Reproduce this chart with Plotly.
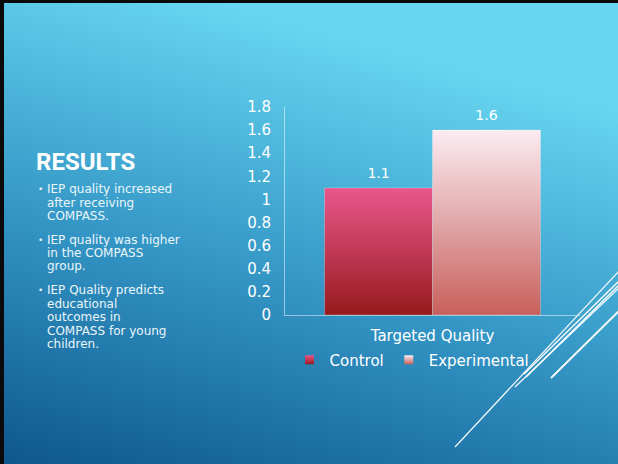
import base64
import plotly.graph_objects as go

# ---------------- data ----------------
categories = ["Targeted Quality"]
series_names = ["Control", "Experimental"]
control_values = [1.1]
experimental_values = [1.6]
y_tick_values = [0, 0.2, 0.4, 0.6, 0.8, 1.0, 1.2, 1.4, 1.6, 1.8]

title_text = "RESULTS"
bullet_lines = [
    ["IEP quality increased", "after receiving", "COMPASS."],
    ["IEP quality was higher", "in the COMPASS", "group."],
    ["IEP Quality predicts", "educational", "outcomes in", "COMPASS for young", "children."],
]

# ---------------- layout helpers ----------------
W, H = 618, 464
FONT = "DejaVu Sans"


def px(x):
    return x / W


def py(y):
    return 1 - y / H


series_styles = {
    "Control": dict(top="#e8588c", bottom="#961a1d", offset=-0.366),
    "Experimental": dict(top="#fcecf2", bottom="#c7605c", offset=0.0),
}
bar_w = 0.366

fig = go.Figure()

series_values = {"Control": control_values, "Experimental": experimental_values}
for name in series_names:
    st = series_styles[name]
    vals = series_values[name]
    for i, cat in enumerate(categories):
        v = vals[i]
        x0 = i + st["offset"]
        x1 = x0 + bar_w
        fig.add_trace(go.Scatter(
            x=[x0, x1, x1, x0, x0], y=[0, 0, v, v, 0],
            mode="lines", fill="toself",
            line=dict(width=1, color="rgba(255,255,255,0.25)"),
            fillgradient=dict(type="vertical",
                              colorscale=[[0, st["bottom"]], [1, st["top"]]]),
            showlegend=False, hoverinfo="skip", name=name,
        ))
        fig.add_trace(go.Scatter(
            x=[(x0 + x1) / 2], y=[v], mode="markers+text", text=[f"{v}"],
            textposition="top center",
            marker=dict(size=9, color="rgba(0,0,0,0)"),
            textfont=dict(family=FONT, size=14, color="white"),
            showlegend=False, hoverinfo="skip",
        ))
    # legend entry
    fig.add_trace(go.Scatter(
        x=[None], y=[None], mode="markers", name=name,
        marker=dict(symbol="square", size=9, color=st["top"],
                    gradient=dict(type="vertical", color=st["bottom"]),
                    line=dict(width=0)),
    ))

# ---------------- background gradient (svg data uri) ----------------
svg = (
    f'<svg xmlns="http://www.w3.org/2000/svg" width="{W}" height="{H}" '
    f'viewBox="0 0 {W} {H}" preserveAspectRatio="none">'
    '<defs><linearGradient id="g" x1="0.35" y1="0" x2="0" y2="1">'
    '<stop offset="0" stop-color="#67d7f1"/>'
    '<stop offset="0.5" stop-color="#3597c6"/>'
    '<stop offset="1" stop-color="#0d578e"/>'
    '</linearGradient></defs>'
    f'<rect width="{W}" height="{H}" fill="url(#g)"/></svg>'
)
svg_uri = "data:image/svg+xml;base64," + base64.b64encode(svg.encode()).decode()

images = [dict(source=svg_uri, xref="paper", yref="paper", x=0, y=1,
               sizex=1, sizey=1, xanchor="left", yanchor="top",
               sizing="stretch", layer="below")]

# ---------------- decorative shapes ----------------
shapes = [
    dict(type="rect", xref="paper", yref="paper", x0=0, x1=px(4), y0=0, y1=1,
         fillcolor="#0a0a0a", line=dict(width=0), layer="above"),
    dict(type="rect", xref="paper", yref="paper", x0=0, x1=1, y0=py(3), y1=1,
         fillcolor="#0a0a0a", line=dict(width=0), layer="above"),
]
deco_lines = [
    ((455, 447), (620, 270), 1.2),
    ((524, 374), (620, 280), 1.5),
    ((526, 377), (620, 284), 1.5),
    ((515, 387), (620, 287), 1.2),
    ((551, 378), (620, 310), 2.0),
]
for (a, b, w) in deco_lines:
    shapes.append(dict(type="line", xref="paper", yref="paper",
                       x0=px(a[0]), y0=py(a[1]), x1=px(b[0]), y1=py(b[1]),
                       line=dict(color="rgba(255,255,255,0.95)", width=w),
                       layer="above"))

# ---------------- text annotations ----------------
annotations = [
    dict(text=f"<b>{title_text}</b>", x=px(34), y=py(162), xref="paper", yref="paper",
         xanchor="left", yanchor="middle", showarrow=False,
         font=dict(family="Roboto", size=24, color="white")),
]
line_y = [[189, 203, 216], [240, 253, 266], [290, 304, 317, 331, 344]]
for group, ys in zip(bullet_lines, line_y):
    annotations.append(dict(text="•", x=px(36), y=py(ys[0]), xref="paper", yref="paper",
                            xanchor="left", yanchor="middle", showarrow=False,
                            font=dict(family=FONT, size=9, color="#eaf6fa")))
    for t, yy in zip(group, ys):
        annotations.append(dict(text=t, x=px(45), y=py(yy), xref="paper", yref="paper",
                                xanchor="left", yanchor="middle", showarrow=False,
                                font=dict(family=FONT, size=12, color="#eaf6fa")))

axis_line = "rgba(255,255,255,0.5)"
fig.update_layout(
    width=W, height=H,
    margin=dict(l=0, r=0, t=0, b=0, pad=0, autoexpand=False),
    paper_bgcolor="#2b8dbd",
    plot_bgcolor="rgba(0,0,0,0)",
    font=dict(family=FONT, color="white"),
    images=images,
    shapes=shapes,
    annotations=annotations,
    xaxis=dict(domain=[px(285), px(580)], range=[-0.5, 0.5],
               tickvals=list(range(len(categories))), ticktext=categories,
               showline=True, linecolor=axis_line, linewidth=1,
               showgrid=False, zeroline=False, ticks="outside", ticklen=7,
               tickcolor="rgba(0,0,0,0)", tickfont=dict(family=FONT, size=15, color="white"),
               fixedrange=True),
    yaxis=dict(domain=[py(315), py(107)], range=[0, 1.8],
               tickvals=y_tick_values, ticktext=[f"{v:g}" for v in y_tick_values],
               showline=True, linecolor=axis_line, linewidth=1,
               showgrid=False, zeroline=False, ticks="outside", ticklen=10,
               tickcolor="rgba(0,0,0,0)", tickfont=dict(family=FONT, size=15, color="white"),
               fixedrange=True),
    legend=dict(orientation="h", x=px(412), xanchor="center", y=py(360), yanchor="middle",
                bgcolor="rgba(0,0,0,0)", font=dict(family=FONT, size=15, color="white"),
                itemwidth=30, tracegroupgap=0),
    showlegend=True,
)

fig.write_html(
    "out.html",
    config={"displayModeBar": False},
    post_script="document.body.style.margin='0';document.body.style.overflow='hidden';",
)
